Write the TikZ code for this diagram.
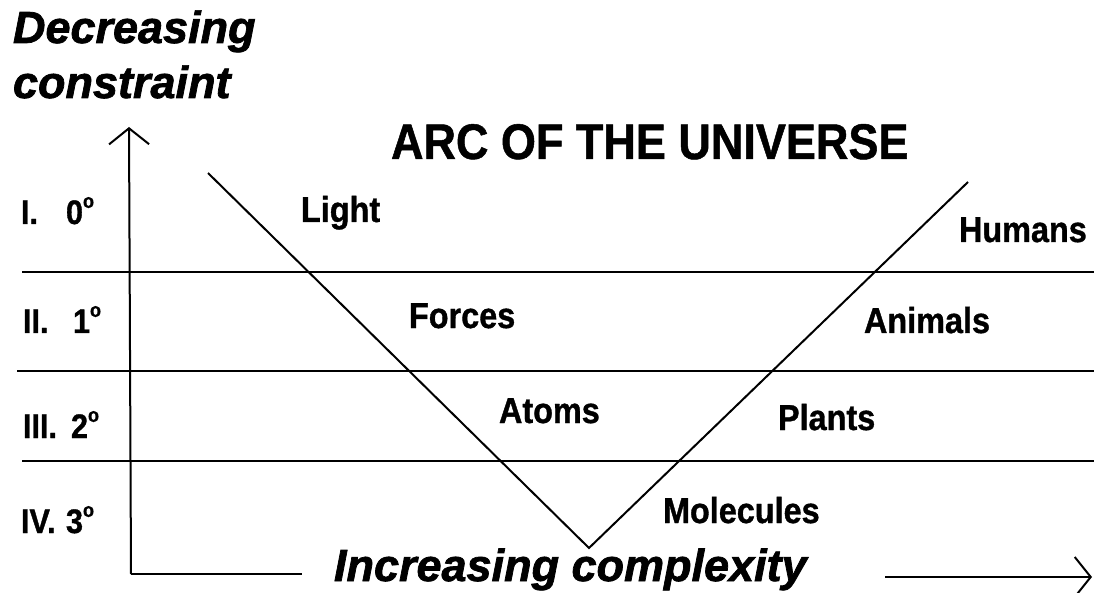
\documentclass[tikz,border=0pt]{standalone}
\usepackage{fontspec}
\setmainfont{Liberation Sans}
\newfontfamily\lblfont[FakeStretch=0.9, FakeBold=1]{Liberation Sans}
\newfontfamily\heavyfont[FakeBold=1.6]{Liberation Sans}
\usetikzlibrary{
  arrows.meta,
  positioning
}

\begin{document}
\begin{tikzpicture}[x=1pt, y=-1pt, line width=2pt,
            lbl/.style={font=\lblfont\bfseries\fontsize{36}{40}\selectfont, inner sep=0pt, anchor=base west},
            rowlbl/.style={font=\lblfont\bfseries\fontsize{34}{38}\selectfont, inner sep=0pt, anchor=base west},
            axislbl/.style={font=\heavyfont\bfseries\itshape\fontsize{45}{50}\selectfont, inner sep=0pt, anchor=base west},
            titlelbl/.style={font=\lblfont\bfseries\fontsize{50}{54}\selectfont, inner sep=0pt, anchor=base west},
            axisarrow/.style={-{Straight Barb[length=16pt, width=40pt]}}]
            \useasboundingbox (0,0) rectangle (1094,593);
            % axis labels
            \node [axislbl] (dec) at (12,43) {Decreasing};
            \node [axislbl] (con) at (12,98) {constraint};
            \node [axislbl] (cmplx) at (333,581) {Increasing complexity};
            \node [titlelbl] (title) at (390,159) {ARC OF THE UNIVERSE};
            % axes
            \coordinate (o) at (131,574);
            \coordinate (ytop) at (129,127);
            \coordinate (xl) at (302,574);
            \coordinate (xr) at (885,577);
            \coordinate (xend) at (1092,577);
            \draw [axisarrow] (o) -- (ytop);
            \draw (o) -- (xl);
            \draw [axisarrow] (xr) -- (xend);
            % level lines
            \foreach \y/\x in {272/22, 371/17, 461/22}
                \draw (\x,\y) -- (1094,\y);
            % levels
            \foreach \n/\r/\d/\y/\rx/\dx in {lvi/I./0/224/20/65, lvii/II./1/333/22/72, lviii/III./2/438/22/70, lviv/IV./3/533/20/65} {
                \node [rowlbl] (\n) at (\rx,\y) {\r};
                \node [rowlbl] (\n d) at (\dx,\y) {\d\raisebox{0.9ex}{\fontsize{20}{20}\selectfont o}};
            }
            % the arc
            \coordinate (vl) at (208,173);
            \coordinate (vb) at (589,548);
            \coordinate (vr) at (968,182);
            \draw (vl) -- (vb) -- (vr);
            % stages
            \node [lbl] (light) at (300,222) {Light};
            \node [lbl] (forces) at (408,328) {Forces};
            \node [lbl] (atoms) at (498,423) {Atoms};
            \node [lbl] (molecules) at (662,523) {Molecules};
            \node [lbl] (plants) at (777,430) {Plants};
            \node [lbl] (animals) at (863,333) {Animals};
            \node [lbl] (humans) at (958,242) {Humans};
        \end{tikzpicture}
\end{document}
